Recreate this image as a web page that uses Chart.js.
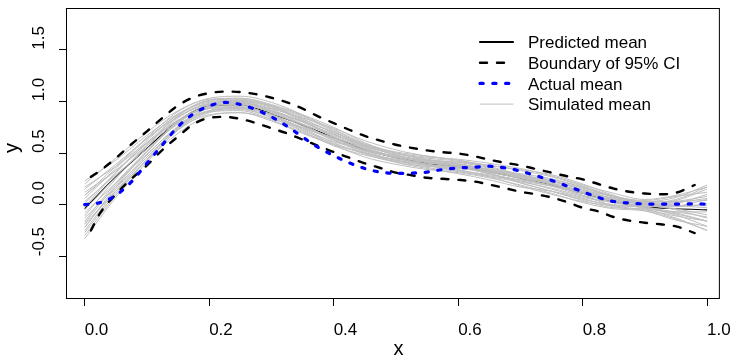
<!DOCTYPE html>
<html lang="en">
<head>
<meta charset="UTF-8">
<title>Predicted vs actual mean</title>
<script src="https://cdn.jsdelivr.net/npm/chart.js"></script>
<style>
  html, body { margin: 0; padding: 0; background: #fff; }
  #box { width: 745px; height: 363px; }
</style>
</head>
<body>
<div id="box"><canvas id="grafico"></canvas></div>
<script>
// x positions
const xGrid = [0, 0.05, 0.1, 0.15, 0.2, 0.25, 0.3, 0.35, 0.4, 0.45, 0.5, 0.55, 0.6, 0.65, 0.7, 0.75, 0.8, 0.85, 0.9, 0.95, 1.0];
const xCI = [0.01, 0.025, 0.05, 0.075, 0.1, 0.125, 0.15, 0.175, 0.2, 0.225, 0.25, 0.275, 0.3, 0.325, 0.35, 0.375, 0.4, 0.425, 0.45, 0.475,
             0.5, 0.525, 0.55, 0.575, 0.6, 0.625, 0.65, 0.675, 0.7, 0.725, 0.75, 0.775, 0.8, 0.825, 0.85, 0.875, 0.9, 0.925, 0.95, 0.98];
const xActual = [0, 0.025, 0.05, 0.075, 0.1, 0.125, 0.15, 0.175, 0.2, 0.225, 0.25, 0.275, 0.3, 0.325, 0.35, 0.375, 0.4, 0.425, 0.45, 0.475,
                 0.5, 0.525, 0.55, 0.575, 0.6, 0.625, 0.65, 0.675, 0.7, 0.725, 0.75, 0.775, 0.8, 0.825, 0.85, 0.875, 0.9, 0.925, 0.95, 0.975, 1.0];

// series
const predictedMean = [-0.04, 0.27, 0.545, 0.81, 0.955, 0.965, 0.88, 0.77, 0.65, 0.535, 0.455, 0.40, 0.37, 0.32, 0.255, 0.19, 0.11, 0.03, -0.02, -0.04, -0.05];
const ciUpper = [0.27, 0.33, 0.45, 0.585, 0.71, 0.84, 0.96, 1.04, 1.08, 1.095, 1.09, 1.07, 1.035, 0.99, 0.93, 0.855, 0.79, 0.725, 0.665, 0.62,
                 0.58, 0.55, 0.525, 0.508, 0.495, 0.47, 0.435, 0.405, 0.38, 0.345, 0.31, 0.275, 0.245, 0.20, 0.155, 0.125, 0.108, 0.10, 0.115, 0.19];
const ciLower = [-0.25, -0.08, 0.10, 0.25, 0.38, 0.53, 0.66, 0.78, 0.84, 0.85, 0.83, 0.79, 0.74, 0.69, 0.63, 0.57, 0.51, 0.455, 0.40, 0.355,
                 0.31, 0.285, 0.26, 0.25, 0.24, 0.225, 0.195, 0.16, 0.125, 0.10, 0.07, 0.025, -0.03, -0.065, -0.12, -0.155, -0.175, -0.19, -0.21, -0.275];
const actualMean = [0.0, 0.02, 0.09, 0.22, 0.40, 0.58, 0.755, 0.88, 0.955, 0.99, 0.97, 0.92, 0.85, 0.76, 0.655, 0.555, 0.475, 0.405, 0.35, 0.315,
                    0.303, 0.305, 0.315, 0.34, 0.355, 0.362, 0.372, 0.355, 0.325, 0.28, 0.235, 0.18, 0.125, 0.07, 0.03, 0.015, 0.007, 0.005, 0.005, 0.008, 0.005];

// simulated means (on xGrid)
const sim01 = [0.23, 0.43, 0.67, 0.88, 1.00, 1.01, 0.96, 0.86, 0.73, 0.59, 0.50, 0.44, 0.40, 0.34, 0.27, 0.20, 0.11, 0.02, -0.04, -0.13, -0.25];
const sim02 = [-0.33, 0.07, 0.41, 0.73, 0.91, 0.94, 0.87, 0.74, 0.60, 0.49, 0.41, 0.37, 0.35, 0.32, 0.28, 0.24, 0.17, 0.08, 0.02, 0.05, 0.17];
const sim03 = [0.09, 0.37, 0.65, 0.90, 1.03, 1.05, 0.99, 0.87, 0.72, 0.58, 0.48, 0.42, 0.38, 0.32, 0.25, 0.18, 0.11, 0.05, 0.01, 0.04, 0.15];
const sim04 = [-0.22, 0.15, 0.48, 0.76, 0.93, 0.95, 0.87, 0.73, 0.58, 0.46, 0.39, 0.34, 0.31, 0.26, 0.19, 0.11, 0.02, -0.04, -0.06, -0.14, -0.25];
const sim05 = [-0.05, 0.27, 0.57, 0.84, 0.98, 0.99, 0.90, 0.77, 0.63, 0.53, 0.46, 0.43, 0.41, 0.38, 0.33, 0.27, 0.18, 0.08, 0.00, -0.04, -0.10];
const sim06 = [-0.13, 0.17, 0.46, 0.73, 0.87, 0.89, 0.81, 0.69, 0.58, 0.50, 0.44, 0.41, 0.39, 0.34, 0.29, 0.23, 0.14, 0.04, -0.02, -0.08, -0.16];
const sim07 = [0.17, 0.37, 0.60, 0.82, 0.95, 0.98, 0.93, 0.84, 0.74, 0.62, 0.53, 0.47, 0.43, 0.38, 0.34, 0.29, 0.20, 0.09, 0.01, -0.01, -0.01];
const sim08 = [-0.27, 0.11, 0.44, 0.75, 0.94, 0.98, 0.93, 0.83, 0.69, 0.55, 0.46, 0.39, 0.34, 0.27, 0.18, 0.10, 0.03, -0.01, -0.02, 0.01, 0.10];
const sim09 = [0.03, 0.29, 0.54, 0.78, 0.91, 0.93, 0.85, 0.75, 0.65, 0.56, 0.49, 0.45, 0.42, 0.36, 0.28, 0.20, 0.09, -0.01, -0.05, -0.11, -0.16];
const sim10 = [-0.11, 0.25, 0.57, 0.86, 1.01, 1.03, 0.96, 0.82, 0.66, 0.52, 0.43, 0.36, 0.32, 0.27, 0.22, 0.16, 0.08, 0.02, -0.01, 0.02, 0.06];
const sim11 = [0.12, 0.33, 0.59, 0.81, 0.94, 0.96, 0.90, 0.80, 0.68, 0.57, 0.48, 0.41, 0.36, 0.30, 0.21, 0.13, 0.05, 0.00, -0.02, -0.02, 0.01];
const sim12 = [-0.19, 0.13, 0.43, 0.69, 0.86, 0.89, 0.83, 0.74, 0.64, 0.54, 0.47, 0.43, 0.39, 0.33, 0.26, 0.20, 0.14, 0.08, 0.03, 0.03, 0.04];
const sim13 = [-0.02, 0.31, 0.62, 0.87, 0.99, 1.00, 0.92, 0.80, 0.68, 0.57, 0.50, 0.46, 0.44, 0.40, 0.35, 0.28, 0.19, 0.11, 0.05, 0.09, 0.17];
const sim14 = [-0.30, 0.09, 0.43, 0.72, 0.89, 0.92, 0.84, 0.71, 0.57, 0.48, 0.42, 0.38, 0.36, 0.33, 0.27, 0.22, 0.15, 0.05, -0.03, -0.10, -0.21];
const sim15 = [0.20, 0.45, 0.70, 0.91, 1.02, 1.03, 0.97, 0.87, 0.75, 0.60, 0.50, 0.43, 0.39, 0.34, 0.28, 0.23, 0.16, 0.08, 0.04, 0.08, 0.12];
const sim16 = [-0.16, 0.21, 0.52, 0.80, 0.96, 1.00, 0.94, 0.81, 0.65, 0.51, 0.41, 0.35, 0.30, 0.24, 0.17, 0.13, 0.06, -0.02, -0.06, -0.15, -0.21];
const sim17 = [0.06, 0.35, 0.64, 0.87, 1.01, 1.02, 0.95, 0.83, 0.70, 0.58, 0.51, 0.47, 0.43, 0.37, 0.29, 0.21, 0.12, 0.04, -0.03, -0.09, -0.16];
const sim18 = [-0.25, 0.13, 0.46, 0.74, 0.90, 0.93, 0.88, 0.78, 0.67, 0.54, 0.45, 0.38, 0.33, 0.29, 0.24, 0.19, 0.13, 0.06, 0.01, -0.01, -0.03];
const sim19 = [0.15, 0.39, 0.64, 0.85, 0.97, 0.99, 0.91, 0.78, 0.63, 0.50, 0.43, 0.40, 0.38, 0.34, 0.30, 0.25, 0.17, 0.07, 0.03, 0.07, 0.19];
const sim20 = [-0.08, 0.21, 0.49, 0.75, 0.90, 0.91, 0.82, 0.70, 0.59, 0.50, 0.43, 0.39, 0.36, 0.30, 0.21, 0.13, 0.04, -0.03, -0.04, -0.07, -0.12];
const sim21 = [0.01, 0.31, 0.60, 0.85, 0.97, 0.97, 0.89, 0.76, 0.62, 0.52, 0.46, 0.41, 0.37, 0.30, 0.23, 0.15, 0.07, 0.02, 0.00, 0.03, 0.08];
const sim22 = [-0.18, 0.19, 0.51, 0.79, 0.95, 0.97, 0.91, 0.81, 0.70, 0.58, 0.48, 0.42, 0.37, 0.31, 0.26, 0.21, 0.12, 0.03, -0.03, -0.07, -0.07];
const sim23 = [0.09, 0.33, 0.57, 0.80, 0.93, 0.94, 0.86, 0.72, 0.61, 0.53, 0.47, 0.43, 0.41, 0.35, 0.26, 0.18, 0.09, 0.04, 0.00, -0.05, -0.13];
const sim24 = [-0.22, 0.17, 0.51, 0.81, 0.97, 1.01, 0.95, 0.85, 0.71, 0.56, 0.46, 0.38, 0.33, 0.28, 0.23, 0.18, 0.12, 0.06, 0.00, -0.01, 0.05];
const simulated = [sim01, sim02, sim03, sim04, sim05, sim06, sim07, sim08, sim09, sim10, sim11, sim12,
                   sim13, sim14, sim15, sim16, sim17, sim18, sim19, sim20, sim21, sim22, sim23, sim24];

// ticks and labels
const xTicks = [0, 0.2, 0.4, 0.6, 0.8, 1.0];
const xTickLabels = ['0.0', '0.2', '0.4', '0.6', '0.8', '1.0'];
const yTicks = [-0.5, 0, 0.5, 1.0, 1.5];
const yTickLabels = ['-0.5', '0.0', '0.5', '1.0', '1.5'];
const legendLabels = ['Predicted mean', 'Boundary of 95% CI', 'Actual mean', 'Simulated mean'];

const FONT = '"Liberation Sans", Arial, Helvetica, sans-serif';
const DASH = [7, 10];
const DOT = [3.2, 9.6];

function pontos(xs, ys) {
    return xs.map((x, i) => ({ x: x, y: ys[i] }));
}

let datasets = [];

// order: higher number is drawn first (underneath)
datasets.push({
    label: legendLabels[0],
    data: pontos(xGrid, predictedMean),
    borderColor: '#000000',
    borderWidth: 1.2,
    order: 3
});

simulated.forEach((s, i) => {
    datasets.push({
        label: legendLabels[3] + ' ' + (i + 1),
        data: pontos(xGrid, s),
        borderColor: '#bebebe',
        borderWidth: 1,
        order: 2
    });
});

[ciUpper, ciLower].forEach((s) => {
    datasets.push({
        label: legendLabels[1],
        data: pontos(xCI, s),
        borderColor: '#000000',
        borderWidth: 2.4,
        borderDash: DASH,
        borderCapStyle: 'round',
        order: 1
    });
});

datasets.push({
    label: legendLabels[2],
    data: pontos(xActual, actualMean),
    borderColor: '#0000ff',
    borderWidth: 3.2,
    borderDash: DOT,
    borderCapStyle: 'round',
    order: 0
});

// box, rotated y labels, axis titles and legend, R style
const desenhoR = {
    id: 'desenhoR',
    afterDraw(chart) {
        const ctx = chart.ctx;
        const area = chart.chartArea;
        const ys = chart.scales.y;

        ctx.save();
        ctx.strokeStyle = '#000';
        ctx.lineWidth = 1;
        ctx.strokeRect(area.left - 0.5, area.top + 0.5, area.right - area.left, area.bottom - area.top);

        ctx.fillStyle = '#000';
        ctx.font = '17px ' + FONT;
        ctx.textBaseline = 'alphabetic';
        ctx.textAlign = 'left';

        yTicks.forEach((v, i) => {
            const py = ys.getPixelForValue(v);
            ctx.save();
            ctx.translate(43.5, py);
            ctx.rotate(-Math.PI / 2);
            ctx.fillText(yTickLabels[i], 0, 0);
            ctx.restore();
        });

        // legend
        const lx0 = 480, lx1 = 513, tx = 528;
        const linhas = [42, 62.7, 83.4, 104.1];
        const estilos = [
            { cor: '#000000', w: 2.2, dash: [] },
            { cor: '#000000', w: 2.4, dash: DASH },
            { cor: '#0000ff', w: 3.2, dash: DOT },
            { cor: '#bebebe', w: 1, dash: [] }
        ];
        ctx.lineCap = 'round';
        estilos.forEach((e, i) => {
            ctx.beginPath();
            ctx.strokeStyle = e.cor;
            ctx.lineWidth = e.w;
            ctx.setLineDash(e.dash);
            ctx.moveTo(lx0, linhas[i]);
            ctx.lineTo(lx1, linhas[i]);
            ctx.stroke();
        });
        ctx.setLineDash([]);
        ctx.textBaseline = 'middle';
        legendLabels.forEach((t, i) => {
            ctx.fillText(t, tx, linhas[i] + 1.5);
        });

        // axis titles
        ctx.font = '20px ' + FONT;
        ctx.textBaseline = 'alphabetic';
        ctx.fillText('x', (area.left + area.right) / 2, 355);
        ctx.save();
        ctx.translate(18, (area.top + area.bottom) / 2);
        ctx.rotate(-Math.PI / 2);
        ctx.fillText('y', 0, 0);
        ctx.restore();
        ctx.restore();
    }
};

new Chart(document.getElementById('grafico'), {
    type: 'line',
    data: { datasets: datasets },
    options: {
        responsive: true,
        maintainAspectRatio: false,
        animation: false,
        devicePixelRatio: 1,
        layout: { padding: { top: 8, right: 13, left: 0, bottom: 0 } },
        elements: {
            point: { radius: 0 },
            line: { cubicInterpolationMode: 'monotone', fill: false }
        },
        plugins: {
            legend: { display: false },
            tooltip: { enabled: false }
        },
        scales: {
            x: {
                type: 'linear',
                min: -0.0284,
                max: 1.0205,
                afterBuildTicks: (axis) => { axis.ticks = xTicks.map(v => ({ value: v })); },
                afterFit: (axis) => { axis.height = 65; },
                ticks: {
                    autoSkip: false,
                    maxRotation: 0,
                    align: 'start',
                    padding: 14,
                    color: '#000',
                    font: { family: FONT, size: 17 },
                    callback: (v) => xTickLabels[xTicks.indexOf(v)]
                },
                grid: { drawOnChartArea: false, drawTicks: true, tickLength: 8, color: '#000', lineWidth: 1 },
                border: { display: false }
            },
            y: {
                type: 'linear',
                min: -0.904,
                max: 1.904,
                afterBuildTicks: (axis) => { axis.ticks = yTicks.map(v => ({ value: v })); },
                afterFit: (axis) => { axis.width = 67; },
                ticks: { display: false },
                grid: { drawOnChartArea: false, drawTicks: true, tickLength: 8, color: '#000', lineWidth: 1 },
                border: { display: false }
            }
        }
    },
    plugins: [desenhoR]
});
</script>
</body>
</html>
